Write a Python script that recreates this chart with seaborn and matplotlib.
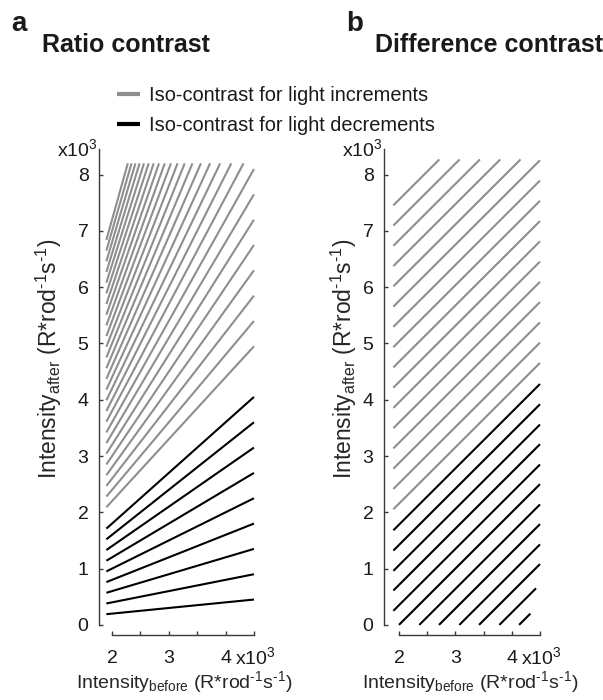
import numpy as np
import pandas as pd
import seaborn as sns
import matplotlib.pyplot as plt
from matplotlib.lines import Line2D

# iso-contrast lines, intensities in units of 10^3 R*rod-1 s-1
ratio_incr = [1.1, 1.2, 1.3, 1.4, 1.5, 1.6, 1.7, 1.8, 1.9, 2.0, 2.1, 2.2, 2.3,
              2.4, 2.5, 2.6, 2.7, 2.8, 2.9, 3.0, 3.1, 3.2, 3.3, 3.4, 3.5, 3.6]
ratio_decr = [0.1, 0.2, 0.3, 0.4, 0.5, 0.6, 0.7, 0.8, 0.9]
diff_incr = [0.155, 0.515, 0.875, 1.235, 1.595, 1.955, 2.315, 2.675,
             3.035, 3.395, 3.755, 4.115, 4.475, 4.835, 5.195, 5.555]
diff_decr = [-0.22, -0.58, -0.94, -1.29, -1.65, -2.0, -2.36, -2.71,
             -3.07, -3.42, -3.78, -4.13]
diff_decr_xend = [4.5, 4.5, 4.5, 4.5, 4.5, 4.5, 4.5, 4.5, 4.5, 4.5, 4.43, 4.33]

x_start, x_stop = 1.9, 4.5
ratio_top, diff_top = 8.2, 8.27

x_ticks = [2, 2.5, 3, 3.5, 4, 4.5]
x_ticklabels = ['2', '', '3', '', '4', '']
y_ticks = [0, 1, 2, 3, 4, 5, 6, 7, 8]

GRAY = '#8e8e8e'
BLACK = '#000000'
TXT = '#1a1a1a'


def ratio_lines():
    rows = []
    for i, c in enumerate(ratio_incr + ratio_decr):
        kind = 'incr' if c > 1 else 'decr'
        x1 = min(x_stop, ratio_top / c)
        for x in (x_start, x1):
            rows.append(dict(line=i, kind=kind, x=x, y=c * x))
    return pd.DataFrame(rows)


def diff_lines():
    rows = []
    ends = [x_stop] * len(diff_incr) + diff_decr_xend
    for i, (d, xe) in enumerate(zip(diff_incr + diff_decr, ends)):
        kind = 'incr' if d > 0 else 'decr'
        x0 = max(x_start, -d)
        x1 = min(xe, diff_top - d)
        for x in (x0, x1):
            rows.append(dict(line=i, kind=kind, x=x, y=x + d))
    return pd.DataFrame(rows)


sns.set_style('ticks')
plt.rcParams['font.family'] = ['Liberation Sans', 'DejaVu Sans']
plt.rcParams['mathtext.fontset'] = 'custom'
plt.rcParams['mathtext.rm'] = 'Liberation Sans'
plt.rcParams['mathtext.it'] = 'Liberation Sans:italic'
plt.rcParams['mathtext.bf'] = 'Liberation Sans:bold'
plt.rcParams['lines.solid_capstyle'] = 'butt'
plt.rcParams['text.color'] = TXT

fig = plt.figure(figsize=(6.03, 7.0), dpi=100)
ax1 = fig.add_axes([99 / 603, 65 / 700, 157.8 / 603, 485.7 / 700])
ax2 = fig.add_axes([384 / 603, 65 / 700, 158.8 / 603, 485.7 / 700])

unit = r' (R*rod$^{\text{-}1}$s$^{\text{-}1}$)'
xlabel = r'Intensity$_{\mathrm{before}}$' + unit
ylabel = r'Intensity$_{\mathrm{after}}$' + unit

panels = [(ax1, ratio_lines(), 1.77, -0.222), (ax2, diff_lines(), 1.734, -0.157)]
for ax, df, x_lo, ylab_x in panels:
    sns.lineplot(data=df, x='x', y='y', units='line', estimator=None,
                 hue='kind', palette={'incr': GRAY, 'decr': BLACK},
                 linewidth=1.5, sort=False, legend=False, ax=ax)
    ax.set_xlim(x_lo, 4.55)
    ax.set_ylim(-0.18, 8.45)
    sns.despine(ax=ax)
    ax.spines['left'].set_bounds(0, 8.45)
    ax.spines['bottom'].set_bounds(2, 4.5)
    for s in ('left', 'bottom'):
        ax.spines[s].set_color('#3a3a3a')
        ax.spines[s].set_linewidth(1.0)
    ax.set_xticks(x_ticks)
    ax.set_xticklabels(x_ticklabels)
    ax.set_yticks(y_ticks)
    ax.tick_params(direction='in', length=3, width=1, color='#3a3a3a',
                   labelsize=14, labelcolor=TXT)
    ax.tick_params(axis='x', pad=11)
    ax.tick_params(axis='y', pad=7.5)
    ax.set_xlabel(xlabel, fontsize=14)
    ax.set_ylabel(ylabel, fontsize=16.5)
    ax.xaxis.set_label_coords(0.54, -0.07)
    ax.yaxis.set_label_coords(ylab_x, 0.568)
    ax.text(x_lo - 0.03, 8.45, 'x10$^{3}$', fontsize=14, ha='right', va='center')
    # multiplier written next to the last labelled x tick
    ax.annotate('x10$^{3}$', xy=(4.17, -0.18), xycoords='data',
                xytext=(0, -20.9), textcoords='offset points',
                fontsize=14, ha='left', va='baseline')

fig.text(11 / 603, 1 - 31 / 700, 'a', fontsize=20, weight='bold', va='baseline')
fig.text(346 / 603, 1 - 31 / 700, 'b', fontsize=20, weight='bold', va='baseline')
fig.text(42 / 603, 1 - 52 / 700, 'Ratio contrast', fontsize=18, weight='bold', va='baseline')
fig.text(375 / 603, 1 - 52 / 700, 'Difference contrast', fontsize=18, weight='bold', va='baseline')

handles = [Line2D([], [], color=GRAY, lw=3), Line2D([], [], color=BLACK, lw=3)]
fig.legend(handles, ['Iso-contrast for light increments',
                     'Iso-contrast for light decrements'],
           loc='upper left', bbox_to_anchor=(117 / 603, 1 - 86 / 700),
           frameon=False, fontsize=14.4, handlelength=1.15, handletextpad=0.45,
           borderpad=0, borderaxespad=0, labelspacing=0.55)

fig.savefig('out.png', dpi=100)
